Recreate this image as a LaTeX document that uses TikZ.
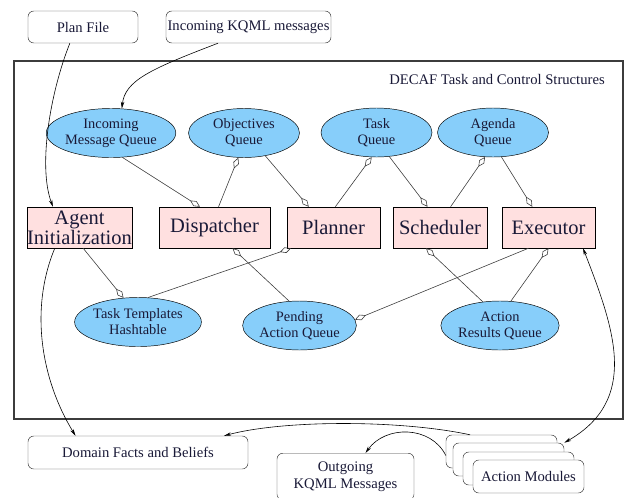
\documentclass[tikz,border=0pt]{standalone}
\usepackage{fontspec}
\setmainfont{Liberation Serif}
\usetikzlibrary{shapes.geometric, arrows.meta}

\definecolor{queueblue}{RGB}{135,206,250}
\definecolor{procpink}{RGB}{255,224,224}
\definecolor{edgegray}{RGB}{60,60,60}
\definecolor{inkblue}{RGB}{25,25,55}

\begin{document}
\begin{tikzpicture}[x=0.03cm, y=-0.03cm,
		queue/.style={ellipse, draw=black, fill=queueblue, text=inkblue, inner sep=0pt, minimum width=3.33cm, minimum height=1.47cm, align=center, font=\fontsize{12.3}{13.6}\selectfont},
		proc/.style={rectangle, draw=black, fill=procpink, text=inkblue, inner sep=0pt, minimum height=1.23cm, align=center, font=\fontsize{17.5}{14}\selectfont},
		store/.style={rectangle, rounded corners=5pt, draw=edgegray, fill=white, text=inkblue, inner sep=0pt, align=center, font=\fontsize{12.5}{15}\selectfont},
		link/.style={draw=edgegray, line width=0.5pt, -{Diamond[open, length=10pt, width=5pt]}},
		flow/.style={draw=black, line width=0.5pt, -{Stealth[length=6pt, width=3pt]}},
		twoway/.style={flow, {Stealth[length=6pt, width=3pt]}-{Stealth[length=6pt, width=3pt]}}
	]

		\useasboundingbox (0,0) rectangle (626,497);
		\clip (0,0) rectangle (626,497);

		% outside inputs
		\node[store, minimum width=3.3cm, minimum height=0.96cm] (planfile) at (83,27) {Plan File};
		\node[store, minimum width=4.95cm, minimum height=0.96cm] (kqmlin) at (248.5,27) {Incoming KQML messages};

		% task and control structures
		\draw[edgegray, line width=0.9pt] (14,61) rectangle (623,419);
		\node[text=inkblue, font=\fontsize{12.5}{15}\selectfont] (decaf) at (497,79) {DECAF Task and Control Structures};

		\node[queue] (imq) at (111,133) {Incoming\\Message Queue};
		\node[queue] (objq) at (244,133) {Objectives\\Queue};
		\node[queue] (taskq) at (376.5,132.5) {Task\\Queue};
		\node[queue] (agq) at (493,132.5) {Agenda\\Queue};

		\node[proc, minimum width=3.15cm] (init) at (79.5,227.5) {Agent\\Initialization};
		\node[proc, minimum width=3.33cm] (disp) at (214.5,227.5) {Dispatcher};
		\node[proc, minimum width=2.79cm] (plan) at (333.5,227.5) {Planner};
		\node[proc, minimum width=2.82cm] (sched) at (440,227.5) {Scheduler};
		\node[proc, minimum width=2.79cm] (exec) at (548.5,227.5) {Executor};

		\node[queue] (tth) at (138,322) {Task Templates\\Hashtable};
		\node[queue] (paq) at (299.5,325.5) {Pending\\Action Queue};
		\node[queue] (arq) at (500,325.5) {Action\\Results Queue};

		% outside stores
		\node[store, minimum width=6.6cm, minimum height=0.99cm] (domain) at (138,452.5) {Domain Facts and Beliefs};
		\node[store, anchor=north, minimum width=4.11cm, inner ysep=7pt] (outgoing) at (345.5,453) {Outgoing\\KQML Messages};
		\node[store, minimum width=3.33cm, minimum height=0.99cm] (am1) at (501.5,451.5) {};
		\node[store, minimum width=3.33cm, minimum height=0.99cm] (am2) at (508.5,459.5) {};
		\node[store, minimum width=3.33cm, minimum height=0.99cm] (am3) at (518.5,468.5) {};
		\node[store, minimum width=3.33cm, minimum height=0.99cm] (actmod) at (528.5,476.5) {Action Modules};

		% queue links
		\draw[link] (imq.-65) -- (disp.125);
		\draw[link] (disp.79) -- (objq.-103);
		\draw[link] (objq.-47) -- (plan.140);
		\draw[link] (plan.85) -- (taskq.-101);
		\draw[link] (taskq.-62) -- (sched.121);
		\draw[link] (sched.63) -- (agq.-108);
		\draw[link] (agq.-71) -- (exec.128);
		\draw[link] (init.-80) -- (tth.121);
		\draw[link] (tth.68) -- (plan.-154);
		\draw[link] (paq.113) -- (disp.-49);
		\draw[link] (exec.-134) -- (paq.6);
		\draw[link] (arq.126) -- (sched.-124);
		\draw[link] (arq.66) -- (exec.-90);

		% data flow
		\draw[flow] (planfile.-129) .. controls +(-20,50) and +(-15,-40) .. (init.142);
		\draw[flow] (kqmlin.-152) .. controls +(-68,26) and +(3,-28) .. (imq.66);
		\draw[flow] (init.-140) .. controls +(-25,60) and +(-35,-57) .. (domain.165);
		\draw[flow] (am1.152) .. controls +(-70,-15) and +(60,-16) .. (domain.11);
		\draw[flow] (am1.-176) .. controls +(-15,-30) and +(20,-28) .. ([xshift=0.6cm]outgoing.north);
		\draw[twoway] (exec.-31) .. controls +(32,82) and +(75,-43) .. (am2.north east);

	\end{tikzpicture}
\end{document}
